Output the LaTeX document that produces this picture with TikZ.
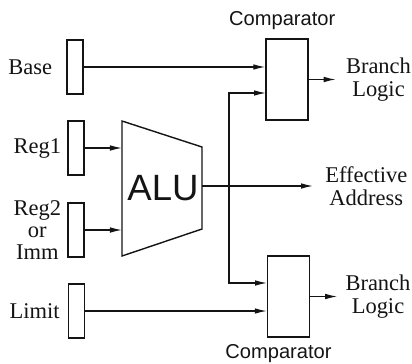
\documentclass[tikz,border=0pt]{standalone}
\usepackage{fontspec}
\setmainfont{Liberation Serif}
\setsansfont{Liberation Sans}
\usetikzlibrary{arrows.meta,positioning}
\definecolor{myink}{RGB}{20,20,20}
\tikzset{
  reg/.style={rectangle,draw=myink,line width=1pt,minimum width=4mm,
    minimum height=13.5mm,inner sep=0pt},
  cmp/.style={rectangle,draw=myink,line width=1pt,minimum width=10.5mm,
    minimum height=20.25mm,inner sep=0pt},
  alubody/.style={draw=myink,line width=1pt,line join=miter},
  flow/.style={-{Latex[length=3mm,width=1.4mm]},line width=0.85pt,color=myink},
  lab/.style={font=\fontsize{16}{16.3}\selectfont,align=center,inner sep=0pt,text=myink},
  sflab/.style={font=\sffamily\fontsize{14.3}{16}\selectfont,inner sep=0pt,text=myink},
}

\begin{document}
\begin{tikzpicture}[x=0.025cm,y=-0.025cm]
  \useasboundingbox (0,0) rectangle (412,363);

  \node[reg] (base)  at (75,67)    {};
  \node[reg] (reg1)  at (76,148)   {};
  \node[reg] (reg2)  at (76,230)   {};
  \node[reg] (limit) at (76.5,311) {};
  \node[lab,left=3.5mm of base]  (baselab)  {Base};
  \node[lab,left=1.5mm of reg1]  (reg1lab)  {Reg1};
  \node[lab,left=1.5mm of reg2,font=\fontsize{16}{15.5}\selectfont] (reg2lab) {Reg2\\or\\Imm};
  \node[lab,left=2mm of limit]   (limitlab) {Limit};

  \draw[alubody] (122,121) -- (202,147) -- (202,229) -- (122,256) -- cycle;
  \node[font=\sffamily\fontsize{26}{26}\selectfont,text=myink] (alu) at (163,188) {ALU};
  \coordinate (aluin)  at (122,188);
  \coordinate (aluout) at (202,186);
  \coordinate (tap)    at (229,186);

  \node[cmp] (cmpU) at (287,79.5)    {};
  \node[cmp] (cmpL) at (288.5,296.5) {};
  \node[sflab,above=2mm of cmpU,xshift=-1.2mm] (cmpUlab) {Comparator};
  \node[sflab,below=1.7mm of cmpL,xshift=-2.5mm] (cmpLlab) {Comparator};
  \coordinate (uin) at (266,93);
  \coordinate (lin) at (267,283);

  \node[lab,right=9.25mm of cmpU.east] (brU) {Branch\\Logic};
  \node[lab,right=8.75mm of cmpL.east] (brL) {Branch\\Logic};
  \coordinate (eaend) at (313,186);
  \node[lab,right=3mm of eaend] (ea) {Effective\\Address};

  \draw[flow] (base.east)  -- (base.east -| cmpU.west);
  \draw[flow] (reg1.east)  -- (reg1.east -| aluin);
  \draw[flow] (reg2.east)  -- (reg2.east -| aluin);
  \draw[flow] (limit.east) -- (limit.east -| cmpL.west);
  \draw[flow] (aluout) -- (eaend);
  \draw[flow] (tap) |- (uin);
  \draw[flow] (tap) |- (lin);
  \draw[flow,shorten >=2.5mm] (cmpU.east) -- (brU.west);
  \draw[flow,shorten >=2mm]   (cmpL.east) -- (brL.west);
\end{tikzpicture}
\end{document}
